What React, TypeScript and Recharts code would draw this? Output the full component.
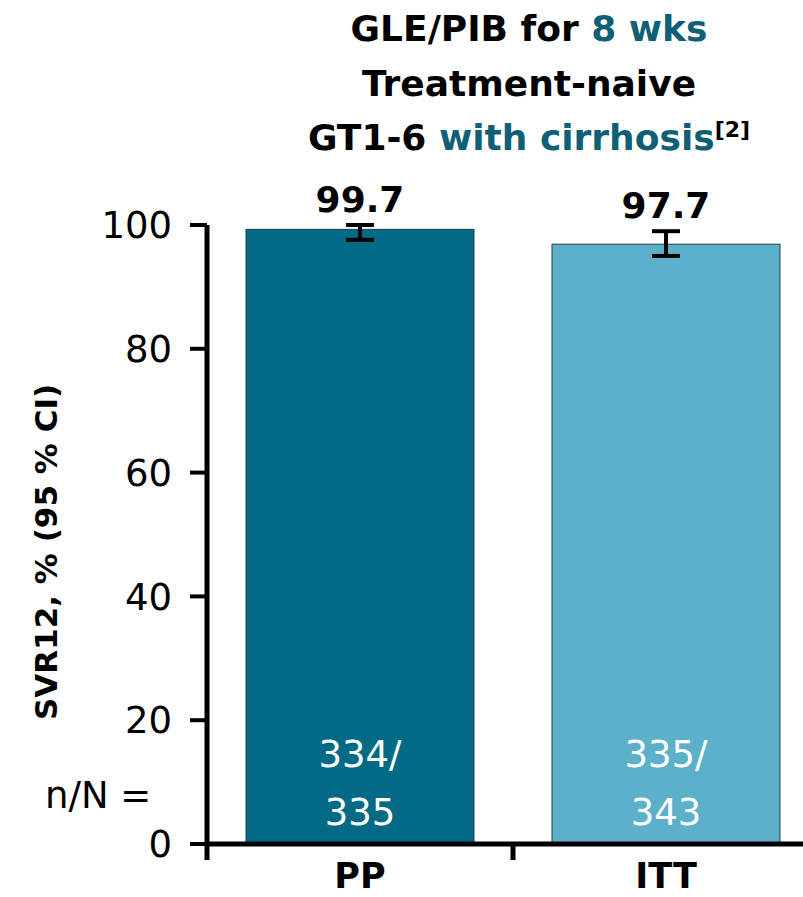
import { BarChart, Bar, XAxis, YAxis, ErrorBar, LabelList } from 'recharts';

const categories = ['PP', 'ITT'];
const svr = [99.3, 96.9];
const svrLabels = ['99.7', '97.7'];
const ciLow = [97.6, 95.0];
const ciHigh = [100, 99.0];
const nTop = ['334/', '335/'];
const nBottom = ['335', '343'];
const barColors = ['#036a85', '#5cb0c9'];
const yTicks = [0, 20, 40, 60, 80, 100];

const data = categories.map((name, i) => ({
  name,
  svr: svr[i],
  err: [svr[i] - ciLow[i], ciHigh[i] - svr[i]],
  label: svrLabels[i],
  nTop: nTop[i],
  nBottom: nBottom[i],
}));

const font = '"DejaVu Sans", sans-serif';
const teal = '#0f5f77';

const ValueLabel = (props: any) => {
  const { x, y, width, height, index } = props;
  const pxPerUnit = height / svr[index];
  const top = y - (ciHigh[index] - svr[index]) * pxPerUnit;
  return (
    <text x={x + width / 2} y={top - 13} textAnchor="middle" fontFamily={font} fontWeight={700} fontSize={36} fill="#000">
      {svrLabels[index]}
    </text>
  );
};

const CountLabel = (props: any) => {
  const { x, y, width, height, index } = props;
  const cx = x + width / 2;
  const bottom = y + height;
  return (
    <text textAnchor="middle" fontFamily={font} fontSize={37} fill="#fff">
      <tspan x={cx} y={bottom - 77}>{nTop[index]}</tspan>
      <tspan x={cx} y={bottom - 19}>{nBottom[index]}</tspan>
    </text>
  );
};

// category label plus the tick marks at the band edges
const CategoryTick = (props: any) => {
  const { x, y, payload } = props;
  const half = payload.offset ?? 0;
  return (
    <g>
      {payload.index === 0 && (
        <line x1={x - half} x2={x - half} y1={y} y2={y + 16} stroke="#000" strokeWidth={5} />
      )}
      <line x1={x + half} x2={x + half} y1={y} y2={y + 16} stroke="#000" strokeWidth={5} />
      <text x={x} y={y + 44} textAnchor="middle" fontFamily={font} fontWeight={700} fontSize={35} fill="#000">
        {payload.value}
      </text>
    </g>
  );
};

export default function App() {
  return (
    <div style={{ position: 'absolute', left: 0, top: 0, width: 803, height: 897, overflow: 'hidden', background: '#fff', fontFamily: font }}>
      <div style={{ position: 'absolute', left: 279, width: 500, top: 2, textAlign: 'center', fontWeight: 700, fontSize: 36, lineHeight: '54.5px', color: '#000', whiteSpace: 'nowrap' }}>
        <div>GLE/PIB for <span style={{ color: teal }}>8 wks</span></div>
        <div>Treatment-naive</div>
        <div>
          GT1-6 <span style={{ color: teal }}>with cirrhosis</span>
          <sup style={{ fontSize: 22, lineHeight: 0 }}>[2]</sup>
        </div>
      </div>
      <div style={{ position: 'absolute', left: 46, top: 552, transform: 'translate(-50%, -50%) rotate(-90deg)', whiteSpace: 'nowrap', fontWeight: 700, fontSize: 31 }}>
        SVR12, % (95 % CI)
      </div>
      <div style={{ position: 'absolute', left: 45, top: 777, fontSize: 37, lineHeight: 1, whiteSpace: 'nowrap' }}>n/N =</div>
      <div style={{ position: 'absolute', left: 0, top: 0 }}>
        <BarChart
          width={830}
          height={897}
          data={data}
          margin={{ top: 225, right: 11, left: 0, bottom: 0 }}
          barCategoryGap={39}
        >
          <XAxis
            dataKey="name"
            height={53}
            axisLine={{ stroke: '#000', strokeWidth: 5 }}
            tickLine={false}
            tickSize={0}
            tickMargin={0}
            tick={<CategoryTick />}
          />
          <YAxis
            width={207}
            domain={[0, 100]}
            ticks={yTicks}
            tickSize={17}
            tickMargin={18}
            axisLine={{ stroke: '#000', strokeWidth: 5 }}
            tickLine={{ stroke: '#000', strokeWidth: 4 }}
            tick={{ fontFamily: font, fontSize: 37, fill: '#000' }}
          />
          <Bar dataKey="svr" isAnimationActive={false}
            shape={(p: any) => (
              <rect x={p.x} y={p.y} width={p.width} height={p.height} fill={barColors[p.index]} stroke="#1d3f4a" strokeWidth={1} />
            )}
          >
            <ErrorBar dataKey="err" direction="y" width={14} stroke="#000" strokeWidth={4} />
            <LabelList dataKey="label" content={ValueLabel} />
            <LabelList dataKey="nTop" content={CountLabel} />
          </Bar>
        </BarChart>
      </div>
    </div>
  );
}
